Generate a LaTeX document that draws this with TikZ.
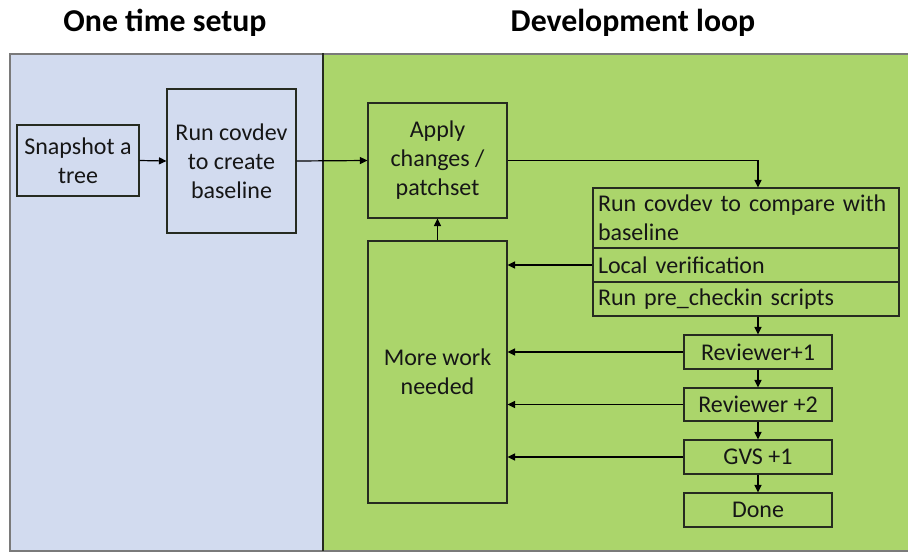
\documentclass[tikz,border=0pt]{standalone}
\usepackage{fontspec}
\setmainfont{Carlito}
\usetikzlibrary{arrows.meta}

\definecolor{setupfill}{HTML}{D2DBEF}
\definecolor{loopfill}{HTML}{ABD56B}
\definecolor{panelline}{HTML}{7A7A7A}
\definecolor{boxline}{HTML}{262B20}
\definecolor{inktext}{HTML}{161616}

\newcommand{\bodyfont}{\fontsize{24}{29}\selectfont}
\newcommand{\headfont}{\fontsize{31.8}{36}\selectfont\bfseries}

\tikzset{
  box/.style={draw=boxline, line width=1.1pt, inner sep=0pt, align=center,
    font=\bodyfont, text=inktext},
  listbox/.style={box, align=left, text width=296pt, inner xsep=5pt,
    minimum width=306pt},
  flow/.style={draw=black, line width=1.2pt,
    -{Triangle[length=7.5pt,width=7pt]}},
  heading/.style={font=\headfont, text=black, inner sep=0pt}
}

\begin{document}
\begin{tikzpicture}[x=1pt, y=-1pt]
  \useasboundingbox (0,0) rectangle (908,552);

  % background panels
  \fill[setupfill] (9.5,53) rectangle (323,551);
  \fill[loopfill] (323,53) rectangle (908,551);
  \draw[panelline, line width=2pt] (908,53.5) -- (9.5,53.5) -- (9.5,550.8) -- (908,550.8);
  \draw[boxline, line width=1.6pt] (323,53) -- (323,551);

  % headings
  \node[heading] (hsetup) at (165,23) {One time setup};
  \node[heading] (hloop) at (633,23) {Development loop};

  % one time setup
  \node[box, minimum width=122pt, minimum height=71pt] (snap) at (78,160.5)
    {Snapshot a\\tree};
  \node[box, minimum width=129pt, minimum height=144pt] (base) at (231.5,161)
    {Run covdev\\to create\\baseline};

  % development loop
  \node[box, minimum width=139pt, minimum height=115pt] (apply) at (437.5,160.5)
    {Apply\\changes /\\patchset};
  \node[box, minimum width=139pt, minimum height=262pt] (more) at (437.5,372)
    {More work\\needed};

  \node[listbox, minimum height=60pt] (cmp) at (746,218)
    {Run covdev to compare with\\baseline};
  \node[listbox, minimum height=34pt] (loc) at (746,265)
    {Local verification};
  \node[listbox, minimum height=34pt] (pre) at (746,299)
    {Run pre\_checkin scripts};

  \node[box, minimum width=148pt, minimum height=34pt] (rev1) at (758,352) {Reviewer+1};
  \node[box, minimum width=148pt, minimum height=33pt] (rev2) at (758,404.5) {Reviewer +2};
  \node[box, minimum width=148pt, minimum height=34pt] (gvs) at (758,457) {GVS +1};
  \node[box, minimum width=148pt, minimum height=34pt] (done) at (758,510) {Done};

  % connectors
  \draw[flow] (snap.east) -- (base.west);
  \draw[flow] (base.east) -- (apply.west);
  \draw[flow] (apply.east) -| (rev1.north |- cmp.north);
  \draw[flow] (more.north) -- (apply.south);
  \draw[flow] (loc.west) -- (more.east |- loc.west);
  \draw[flow] (rev1.north |- pre.south) -- (rev1.north);
  \draw[flow] (rev1.south) -- (rev2.north);
  \draw[flow] (rev2.south) -- (gvs.north);
  \draw[flow] (gvs.south) -- (done.north);
  \draw[flow] (rev1.west) -- (more.east |- rev1.west);
  \draw[flow] (rev2.west) -- (more.east |- rev2.west);
  \draw[flow] (gvs.west) -- (more.east |- gvs.west);
\end{tikzpicture}
\end{document}
